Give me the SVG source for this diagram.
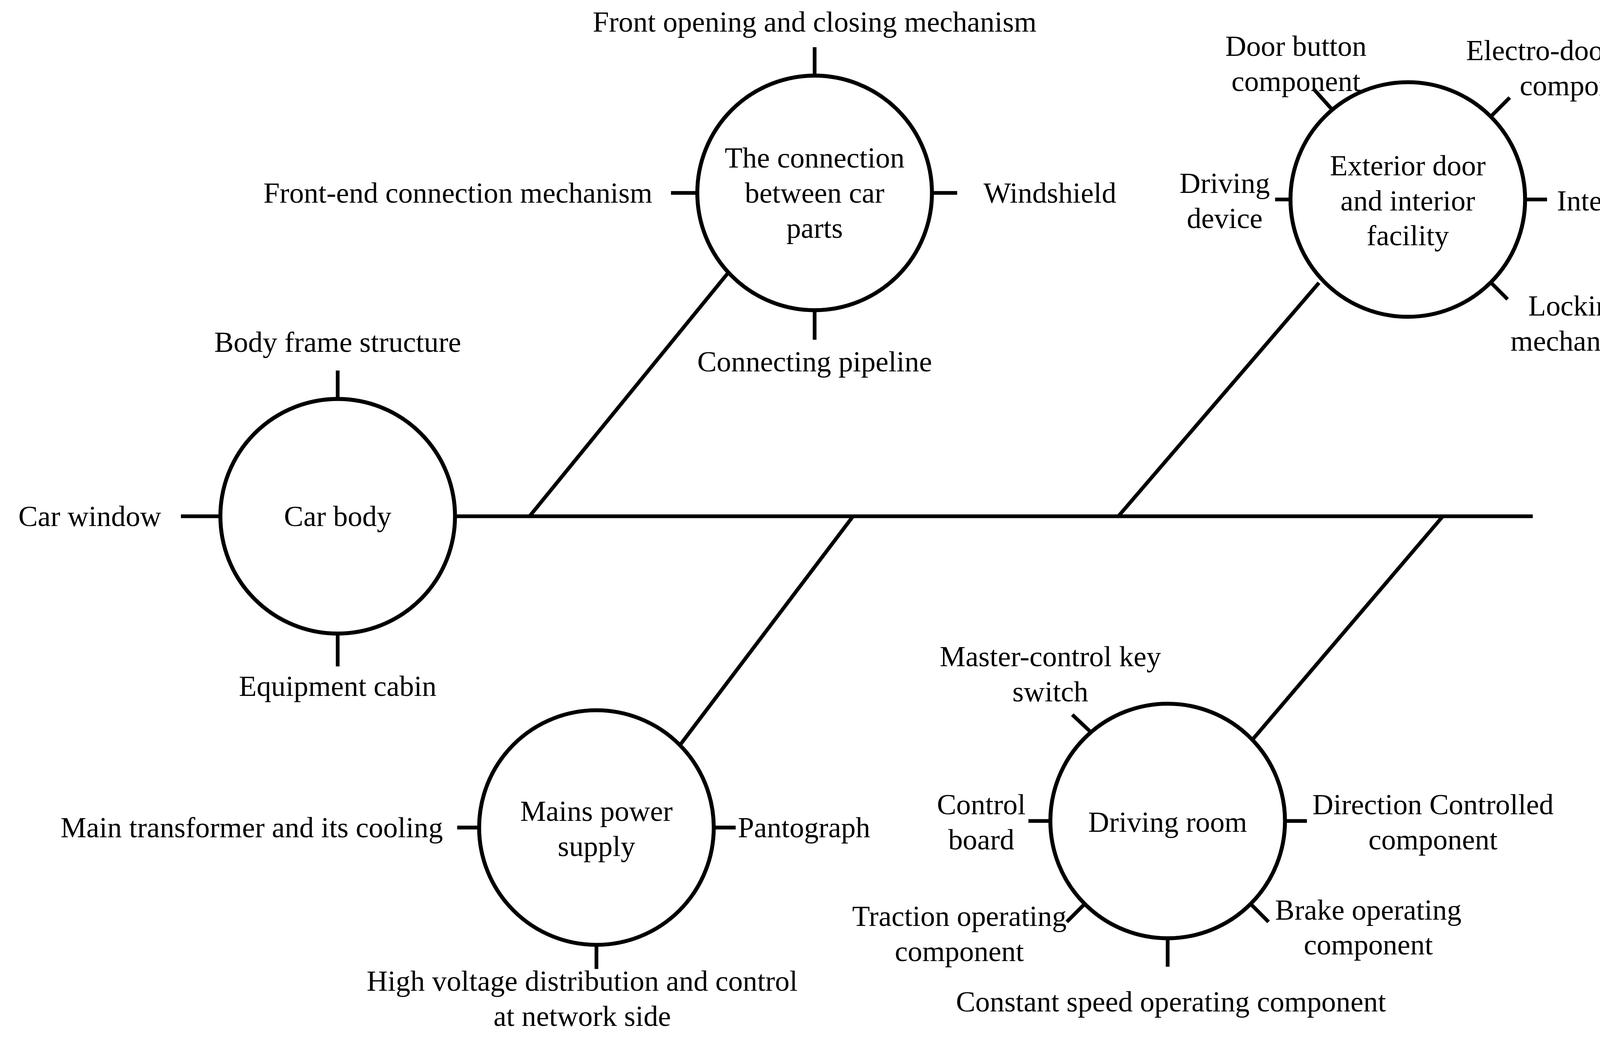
<svg xmlns="http://www.w3.org/2000/svg" width="4401" height="2658" viewBox="0 0 4401 2658">
<style>
.l{stroke:#000;stroke-width:3.4;fill:none}
.c{stroke:#000;stroke-width:3.6;fill:#fff}
text{font-family:"Liberation Serif","Times New Roman",serif;font-size:26.5px;fill:#000;dominant-baseline:central}
.m{text-anchor:middle}.e{text-anchor:end}
</style>
<rect width="4401" height="2658" fill="#fff"/>
<g transform="scale(2.8068)">
<g id="connectors">
<path class="l" d="M415 471H1398M483 471L664 249M1020 471L1203 258M778 471L620 680M1316 471L1143 674"/>
</g>
<g id="carbody">
<circle class="c" cx="308" cy="471" r="107"/>
<path class="l" d="M308 338V364M165 471H201M308 578V608"/>
<text class="m" x="308" y="471">Car body</text>
<text class="m" x="308" y="312">Body frame structure</text>
<text class="e" x="147" y="471">Car window</text>
<text class="m" x="308" y="626">Equipment cabin</text>
</g>
<g id="connection">
<circle class="c" cx="743" cy="176" r="107"/>
<path class="l" d="M743 43V69M612 176H636M850 176H873M743 283V310"/>
<text class="m" x="743" y="144">The connection</text>
<text class="m" x="743" y="176">between car</text>
<text class="m" x="743" y="208">parts</text>
<text class="m" x="743" y="20">Front opening and closing mechanism</text>
<text class="e" x="595" y="176">Front-end connection mechanism</text>
<text x="897" y="176">Windshield</text>
<text class="m" x="743" y="330">Connecting pipeline</text>
</g>
<g id="exterior">
<circle class="c" cx="1284" cy="182" r="107"/>
<path class="l" d="M1215 100L1198 81M1360 106L1377 89M1391 182H1411M1360 258L1375 273M1177 182H1163"/>
<text class="m" x="1284" y="151">Exterior door</text>
<text class="m" x="1284" y="183">and interior</text>
<text class="m" x="1284" y="215">facility</text>
<text class="m" x="1182" y="42">Door button</text>
<text class="m" x="1182" y="74">component</text>
<text class="m" x="1445" y="46">Electro-door control</text>
<text class="m" x="1445" y="78">component</text>
<text class="m" x="1117" y="167">Driving</text>
<text class="m" x="1117" y="199">device</text>
<text x="1420" y="183">Internal bus</text>
<text class="m" x="1438" y="279">Locking</text>
<text class="m" x="1438" y="311">mechanism</text>
</g>
<g id="mains">
<circle class="c" cx="544" cy="755" r="107"/>
<path class="l" d="M417 755H437M651 755H671M544 862V884"/>
<text class="m" x="544" y="740">Mains power</text>
<text class="m" x="544" y="772">supply</text>
<text class="e" x="404" y="755">Main transformer and its cooling</text>
<text x="673" y="755">Pantograph</text>
<text class="m" x="531" y="895">High voltage distribution and control</text>
<text class="m" x="531" y="927">at network side</text>
</g>
<g id="driving">
<circle class="c" cx="1065" cy="749" r="107"/>
<path class="l" d="M995 668L978 652M958 749H938M1172 749H1192M1141 825L1157 841M989 825L973 841M1065 856V882"/>
<text class="m" x="1065" y="750">Driving room</text>
<text class="m" x="958" y="599">Master-control key</text>
<text class="m" x="958" y="631">switch</text>
<text class="m" x="895" y="734">Control</text>
<text class="m" x="895" y="766">board</text>
<text class="m" x="1307" y="734">Direction Controlled</text>
<text class="m" x="1307" y="766">component</text>
<text class="m" x="875" y="836">Traction operating</text>
<text class="m" x="875" y="868">component</text>
<text class="m" x="1248" y="830">Brake operating</text>
<text class="m" x="1248" y="862">component</text>
<text class="m" x="1068" y="914">Constant speed operating component</text>
</g>
<text class="m" x="1480" y="474">…</text>
</g>
</svg>
